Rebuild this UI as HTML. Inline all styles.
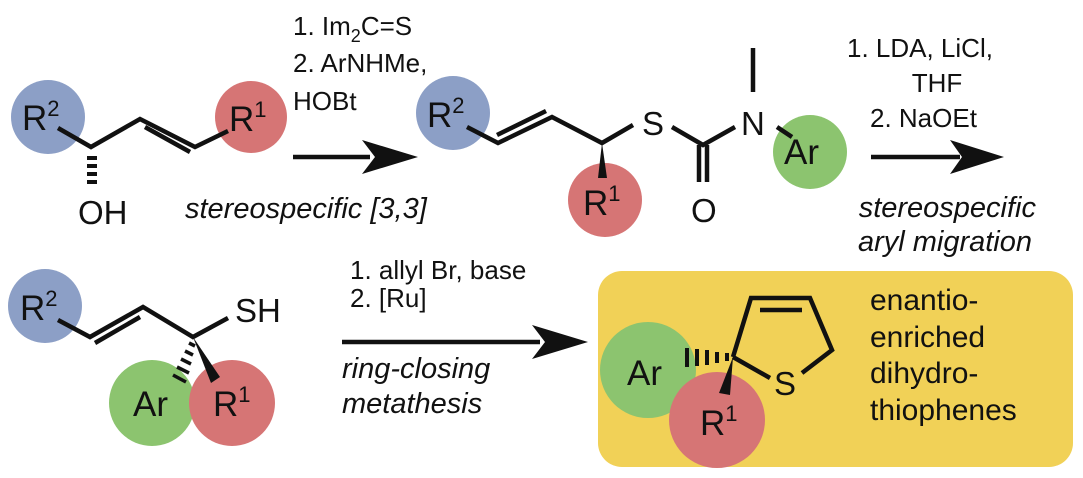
<!DOCTYPE html>
<html><head><style>
html,body{margin:0;padding:0;background:#fff;}
svg{display:block;}
text{font-family:"Liberation Sans",Arial,sans-serif;fill:#111;}
.t{font-size:26px;}
.i{font-size:29px;font-style:italic;}
.lab{font-size:35px;}
.sup{font-size:22px;}
</style></head><body>
<svg width="1083" height="478" viewBox="0 0 1083 478" xmlns="http://www.w3.org/2000/svg">
<!-- Top left molecule -->
<circle cx="48" cy="117" r="37" fill="#8c9fc6"/>
<circle cx="251" cy="117" r="36" fill="#d67575"/>
<g stroke="#111" stroke-width="4.5" fill="none">
<polyline points="58,128 91,147 140,119 195,147 228,131"/>
<line x1="145" y1="127" x2="190" y2="152"/>
</g>
<g stroke="#111" stroke-width="4">
<line x1="87" y1="158" x2="97" y2="158"/>
<line x1="87" y1="166" x2="97" y2="166"/>
<line x1="87" y1="174" x2="97" y2="174"/>
<line x1="87" y1="182" x2="97" y2="182"/>
</g>
<text x="22" y="130" class="lab">R<tspan class="sup" dy="-14">2</tspan></text>
<text x="229" y="131" class="lab">R<tspan class="sup" dy="-14">1</tspan></text>
<text x="78" y="224" class="lab" style="font-size:33px">OH</text>

<!-- Arrow 1 -->
<line x1="293" y1="157" x2="370" y2="157" stroke="#111" stroke-width="4.5"/>
<polygon points="418,157 362,140 375,157 362,174" fill="#111"/>
<text x="293" y="35" class="t">1. Im<tspan font-size="18" dy="7">2</tspan><tspan dy="-7">C=S</tspan></text>
<text x="293" y="72" class="t">2. ArNHMe,</text>
<text x="293" y="110" class="t">HOBt</text>
<text x="185" y="218" class="i">stereospecific [3,3]</text>

<!-- Middle molecule -->
<circle cx="453" cy="113" r="37" fill="#8c9fc6"/>
<circle cx="605" cy="200" r="37" fill="#d67575"/>
<circle cx="810" cy="152" r="37" fill="#8cc46f"/>
<g stroke="#111" stroke-width="4.5" fill="none">
<polyline points="467,127 498,143 552,117 602,143 633,125"/>
<line x1="497" y1="135" x2="546" y2="111"/>
<polyline points="672,127 703,145 735,127"/>
<line x1="699" y1="145" x2="699" y2="182"/>
<line x1="707" y1="145" x2="707" y2="182"/>
<line x1="753" y1="48" x2="753" y2="92"/>
<line x1="777" y1="127" x2="792" y2="137"/>
</g>
<polygon points="602,143 598,178 607,178" fill="#111"/>
<text x="427" y="127" class="lab">R<tspan class="sup" dy="-14">2</tspan></text>
<text x="583" y="215" class="lab">R<tspan class="sup" dy="-14">1</tspan></text>
<text x="642" y="135" class="lab" style="font-size:33px">S</text>
<text x="741" y="135" class="lab" style="font-size:33px">N</text>
<text x="691" y="222" class="lab" style="font-size:33px">O</text>
<text x="784" y="164" class="lab">Ar</text>

<!-- Arrow 2 -->
<line x1="871" y1="157" x2="960" y2="157" stroke="#111" stroke-width="4.5"/>
<polygon points="1004,157 950,140 962,157 950,174" fill="#111"/>
<text x="847" y="57" class="t">1. LDA, LiCl,</text>
<text x="937" y="92" class="t" text-anchor="middle">THF</text>
<text x="870" y="127" class="t">2. NaOEt</text>
<text x="1036" y="217" class="i" text-anchor="end">stereospecific</text>
<text x="1032" y="251" class="i" text-anchor="end">aryl migration</text>

<!-- Bottom left molecule -->
<circle cx="45" cy="306" r="37" fill="#8c9fc6"/>
<circle cx="152" cy="403" r="43" fill="#8cc46f"/>
<circle cx="232" cy="403" r="43" fill="#d67575"/>
<g stroke="#111" stroke-width="4.5" fill="none">
<polyline points="58,320 90,337 143,307 193,337 228,318"/>
<line x1="95" y1="343" x2="140" y2="317"/>
</g>
<g stroke="#111" stroke-width="3.5">
<line x1="189" y1="343" x2="195" y2="346"/>
<line x1="185" y1="351" x2="193" y2="355"/>
<line x1="181" y1="359" x2="191" y2="364"/>
<line x1="177" y1="367" x2="189" y2="373"/>
<line x1="173" y1="375" x2="186" y2="382"/>
</g>
<polygon points="193,337 211,383 220,377" fill="#111"/>
<text x="20" y="320" class="lab">R<tspan class="sup" dy="-14">2</tspan></text>
<text x="235" y="322" class="lab" style="font-size:33px">SH</text>
<text x="133" y="416" class="lab">Ar</text>
<text x="213" y="416" class="lab">R<tspan class="sup" dy="-14">1</tspan></text>

<!-- Arrow 3 -->
<line x1="342" y1="342" x2="540" y2="342" stroke="#111" stroke-width="4.5"/>
<polygon points="588,342 532,325 545,342 532,359" fill="#111"/>
<text x="350" y="279" class="t">1. allyl Br, base</text>
<text x="350" y="307" class="t">2. [Ru]</text>
<text x="342" y="378" class="i">ring-closing</text>
<text x="342" y="413" class="i">metathesis</text>

<!-- Yellow box -->
<rect x="598" y="271" width="475" height="196" rx="24" fill="#f1d157"/>
<circle cx="648" cy="370" r="48" fill="#8cc46f"/>
<circle cx="717" cy="420" r="48" fill="#d67575"/>
<g stroke="#111" stroke-width="4.5" fill="none" stroke-linejoin="miter">
<polyline points="733,357 751,298 810,298 832,350 802,373"/>
<line x1="733" y1="357" x2="770" y2="378"/>
<line x1="760" y1="310" x2="802" y2="310"/>
</g>
<g stroke="#111" stroke-width="4">
<line x1="727" y1="353" x2="727" y2="361"/>
<line x1="717" y1="352" x2="717" y2="363"/>
<line x1="707" y1="350" x2="707" y2="365"/>
<line x1="697" y1="349" x2="697" y2="366"/>
<line x1="687" y1="348" x2="687" y2="367"/>
</g>
<polygon points="733,357 719,393 730,395" fill="#111"/>
<text x="627" y="385" class="lab">Ar</text>
<text x="700" y="435" class="lab">R<tspan class="sup" dy="-14">1</tspan></text>
<text x="774" y="395" class="lab" style="font-size:33px">S</text>
<text x="870" y="310" style="font-size:30px">enantio-</text>
<text x="870" y="347" style="font-size:30px">enriched</text>
<text x="870" y="383" style="font-size:30px">dihydro-</text>
<text x="870" y="420" style="font-size:30px">thiophenes</text>
</svg>
</body></html>
